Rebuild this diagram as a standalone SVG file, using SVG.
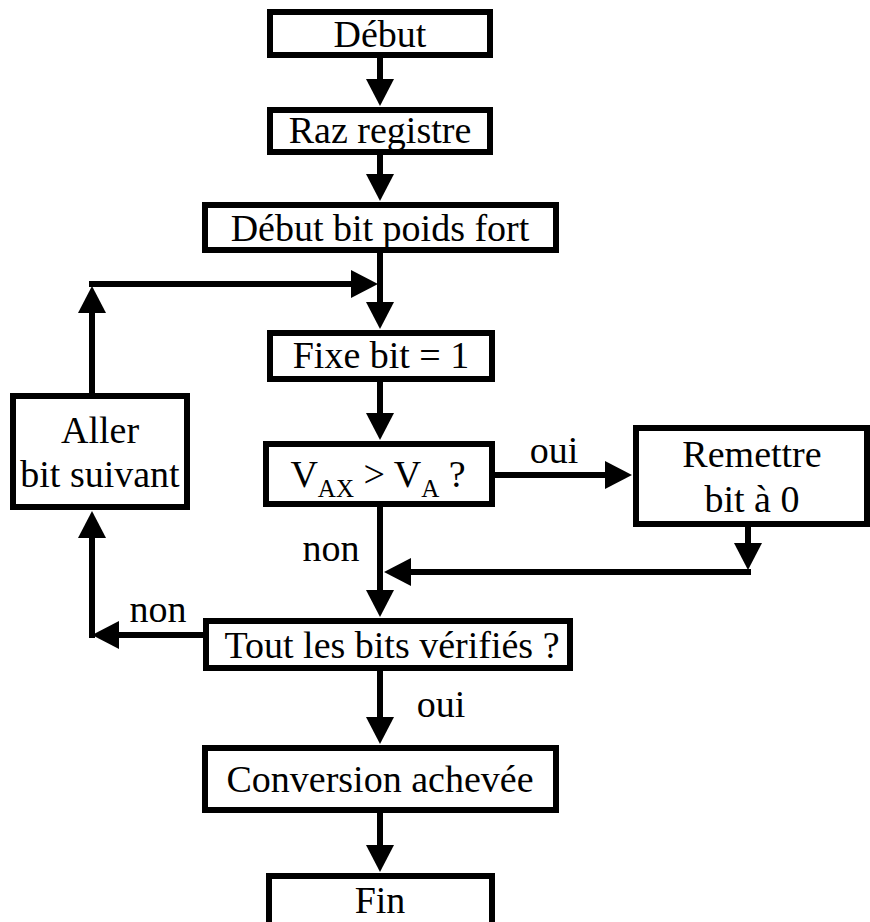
<svg xmlns="http://www.w3.org/2000/svg" width="870" height="922" viewBox="0 0 870 922">
  <style>
    .box { fill: #fff; stroke: #000; stroke-width: 6; }
    .lbl { font-family: 'Liberation Serif', 'DejaVu Serif', serif; font-size: 38px; fill: #000; text-anchor: middle; }
    .sub { font-size: 25px; }
    .wire { fill: none; stroke: #000; stroke-width: 6; marker-end: url(#arrow); }
  </style>
  <defs>
    <marker id="arrow" markerUnits="userSpaceOnUse" markerWidth="28" markerHeight="30" viewBox="0 0 28 30" refX="1" refY="15" orient="auto">
      <path d="M0,1 L27,15 L0,29 z" fill="#000"/>
    </marker>
  </defs>
  <rect width="870" height="922" fill="#fff"/>

  <!-- connectors and their labels -->
  <g id="connectors">
    <path class="wire" d="M380,58 V80"/>
    <path class="wire" d="M380,155 V175"/>
    <path class="wire" d="M380,253 V303"/>
    <path class="wire" d="M92,393 V312"/>
    <path class="wire" d="M89,284 H352"/>
    <path class="wire" d="M380,382 V414"/>
    <path class="wire" d="M495,475 H606"/>
    <path class="wire" d="M380,507 V591"/>
    <path class="wire" d="M748,527 V544"/>
    <path class="wire" d="M751,572 H410"/>
    <path class="wire" d="M203,635 H118"/>
    <path class="wire" d="M92,638 V537"/>
    <path class="wire" d="M380,671 V718"/>
    <path class="wire" d="M380,813 V846"/>
    <text class="lbl" x="554" y="463">oui</text>
    <text class="lbl" x="331" y="561">non</text>
    <text class="lbl" x="158" y="622">non</text>
    <text class="lbl" x="441" y="717">oui</text>
  </g>

  <g id="debut">
    <rect class="box" x="270" y="12" width="220" height="43"/>
    <text class="lbl" x="380" y="47">Début</text>
  </g>
  <g id="raz">
    <rect class="box" x="270" y="110" width="220" height="42"/>
    <text class="lbl" x="380" y="143">Raz registre</text>
  </g>
  <g id="debut-bit">
    <rect class="box" x="205" y="205" width="351" height="45"/>
    <text class="lbl" x="380" y="241">Début bit poids fort</text>
  </g>
  <g id="fixe-bit">
    <rect class="box" x="270" y="333" width="222" height="46"/>
    <text class="lbl" x="381" y="368">Fixe bit = 1</text>
  </g>
  <g id="compare">
    <rect class="box" x="266" y="444" width="226" height="60"/>
    <text class="lbl" x="378" y="487">V<tspan class="sub" dy="10">AX</tspan><tspan dy="-10"> &gt; V</tspan><tspan class="sub" dy="10">A</tspan><tspan dy="-10"> ?</tspan></text>
  </g>
  <g id="remettre">
    <rect class="box" x="636" y="428" width="231" height="96"/>
    <text class="lbl" x="752" y="467">Remettre</text>
    <text class="lbl" x="752" y="512">bit à 0</text>
  </g>
  <g id="aller">
    <rect class="box" x="13" y="396" width="174" height="111"/>
    <text class="lbl" x="100" y="443">Aller</text>
    <text class="lbl" x="100" y="487">bit suivant</text>
  </g>
  <g id="tout">
    <rect class="box" x="206" y="621" width="364" height="47"/>
    <text class="lbl" x="392" y="658">Tout les bits vérifiés ?</text>
  </g>
  <g id="conversion">
    <rect class="box" x="205" y="748" width="351" height="62"/>
    <text class="lbl" x="380" y="792">Conversion achevée</text>
  </g>
  <g id="fin">
    <rect class="box" x="269" y="876" width="223" height="60"/>
    <text class="lbl" x="380" y="913">Fin</text>
  </g>
</svg>
